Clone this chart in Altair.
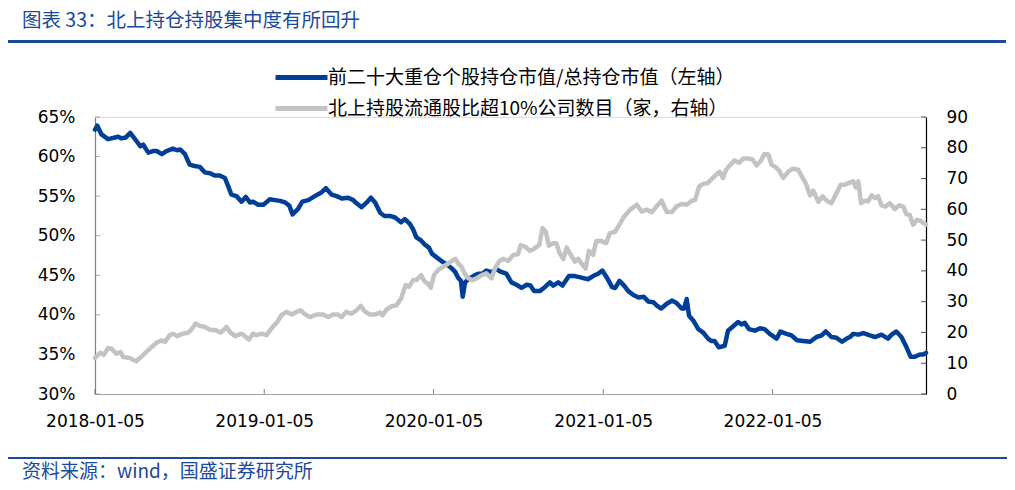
import altair as alt
import pandas as pd

S1 = "前二十大重仓个股持仓市值/总持仓市值（左轴）"
S2 = "北上持股流通股比超10%公司数目（家，右轴）"
TITLE = "图表 33：北上持仓持股集中度有所回升"
SOURCE = "资料来源：wind，国盛证券研究所"

blue_dates = [
    "2018-01-05", "2018-01-10", "2018-01-19", "2018-02-02", "2018-02-24", "2018-03-03",
    "2018-03-12", "2018-03-22", "2018-04-04", "2018-04-13", "2018-04-19", "2018-04-30",
    "2018-05-10", "2018-05-18", "2018-05-29", "2018-06-08", "2018-06-22", "2018-07-01",
    "2018-07-08", "2018-07-18", "2018-07-28", "2018-08-08", "2018-08-19", "2018-08-30",
    "2018-09-10", "2018-09-20", "2018-10-01", "2018-10-12", "2018-10-19", "2018-10-26",
    "2018-11-06", "2018-11-17", "2018-11-26", "2018-12-05", "2018-12-12", "2018-12-23",
    "2019-01-03", "2019-01-17", "2019-01-28", "2019-02-08", "2019-02-19", "2019-02-28",
    "2019-03-07", "2019-03-19", "2019-03-28", "2019-04-10", "2019-04-24", "2019-05-09",
    "2019-05-18", "2019-05-30", "2019-06-10", "2019-06-21", "2019-07-05", "2019-07-16",
    "2019-07-23", "2019-08-03", "2019-08-14", "2019-08-23", "2019-09-01", "2019-09-12",
    "2019-09-21", "2019-10-03", "2019-10-14", "2019-10-27", "2019-11-04", "2019-11-15",
    "2019-11-22", "2019-11-29", "2019-12-09", "2019-12-17", "2019-12-26", "2020-01-02",
    "2020-01-11", "2020-01-22", "2020-02-02", "2020-02-13", "2020-02-21", "2020-02-27",
    "2020-03-04", "2020-03-08", "2020-03-13", "2020-03-20", "2020-03-31", "2020-04-10",
    "2020-04-19", "2020-04-28", "2020-05-09", "2020-05-20", "2020-05-27", "2020-06-10",
    "2020-06-21", "2020-07-02", "2020-07-13", "2020-07-24", "2020-08-01", "2020-08-09",
    "2020-08-21", "2020-09-01", "2020-09-12", "2020-09-19", "2020-09-30", "2020-10-09",
    "2020-10-23", "2020-11-05", "2020-11-19", "2020-12-03", "2020-12-14", "2020-12-25",
    "2021-01-03", "2021-01-13", "2021-01-24", "2021-01-31", "2021-02-09", "2021-02-19",
    "2021-02-28", "2021-03-11", "2021-03-22", "2021-04-02", "2021-04-12", "2021-04-23",
    "2021-04-30", "2021-05-10", "2021-05-22", "2021-06-02", "2021-06-12", "2021-06-23",
    "2021-06-28", "2021-07-04", "2021-07-09", "2021-07-18", "2021-07-29", "2021-08-08",
    "2021-08-19", "2021-08-26", "2021-09-02", "2021-09-11", "2021-09-24", "2021-10-01",
    "2021-10-11", "2021-10-23", "2021-10-30", "2021-11-06", "2021-11-15", "2021-11-28",
    "2021-12-09", "2021-12-19", "2021-12-30", "2022-01-14", "2022-01-22", "2022-02-04",
    "2022-02-15", "2022-02-27", "2022-03-12", "2022-03-27", "2022-04-10", "2022-04-21",
    "2022-04-30", "2022-05-12", "2022-05-23", "2022-06-04", "2022-06-14", "2022-06-21",
    "2022-06-28", "2022-07-09", "2022-07-20", "2022-08-03", "2022-08-14", "2022-08-28",
    "2022-09-11", "2022-09-19", "2022-09-29", "2022-10-10", "2022-10-21", "2022-10-30",
    "2022-11-08", "2022-11-19", "2022-11-26", "2022-12-02",
]
blue_pct = [
    63.4, 63.9, 62.8, 62.2, 62.5, 62.3,
    62.4, 63.0, 62.0, 61.3, 61.5, 60.5,
    60.7, 60.7, 60.3, 60.7, 61.0, 60.8,
    60.9, 60.3, 59.0, 58.8, 58.7, 58.0,
    57.9, 57.6, 57.6, 57.3, 56.3, 55.2,
    55.0, 54.3, 54.9, 54.2, 54.3, 53.9,
    53.9, 54.6, 54.5, 54.4, 54.2, 53.8,
    52.7, 53.4, 54.3, 54.5, 55.0, 55.5,
    56.0, 55.2, 55.0, 54.7, 54.8, 54.5,
    54.1, 53.6, 54.2, 54.8, 54.2, 52.9,
    52.5, 52.5, 52.3, 51.7, 52.1, 51.5,
    50.8, 49.8, 49.4, 48.9, 48.5, 47.7,
    47.3, 46.8, 46.4, 45.9, 45.4, 44.7,
    44.3, 42.3, 44.1, 44.5, 44.9, 45.2,
    45.2, 45.6, 45.4, 45.8, 45.5, 45.2,
    44.1, 43.8, 43.4, 43.8, 43.7, 43.0,
    43.0, 43.5, 44.1, 43.7, 44.1, 43.7,
    44.9, 44.9, 44.7, 44.5, 44.9, 45.2,
    45.6, 44.7, 43.5, 43.4, 44.3, 43.7,
    43.0, 42.5, 42.2, 42.3, 41.7, 41.6,
    41.2, 40.8, 41.4, 41.8, 41.5, 40.8,
    40.8, 42.0, 39.9, 39.3, 38.2, 37.8,
    37.0, 36.7, 36.7, 35.9, 36.1, 38.0,
    38.5, 39.1, 38.8, 39.0, 38.2, 38.0,
    38.3, 38.2, 37.6, 37.0, 37.9, 37.6,
    37.4, 36.8, 36.7, 36.6, 37.2, 37.4,
    37.9, 37.2, 37.1, 36.6, 37.0, 37.2,
    37.6, 37.5, 37.7, 37.4, 37.2, 37.5,
    37.0, 37.5, 37.9, 37.2, 35.9, 34.7,
    34.7, 35.0, 35.0, 35.2,
]

gray_dates = [
    "2018-01-05", "2018-01-16", "2018-01-24", "2018-02-02", "2018-02-10", "2018-02-20",
    "2018-03-01", "2018-03-07", "2018-03-21", "2018-04-04", "2018-04-19", "2018-05-03",
    "2018-05-18", "2018-05-29", "2018-06-05", "2018-06-15", "2018-06-22", "2018-07-01",
    "2018-07-13", "2018-07-25", "2018-08-01", "2018-08-10", "2018-08-19", "2018-08-30",
    "2018-09-10", "2018-09-23", "2018-10-03", "2018-10-16", "2018-10-23", "2018-11-03",
    "2018-11-17", "2018-11-24", "2018-12-03", "2018-12-12", "2018-12-19", "2018-12-30",
    "2019-01-10", "2019-01-21", "2019-02-01", "2019-02-11", "2019-02-22", "2019-03-05",
    "2019-03-16", "2019-03-24", "2019-04-01", "2019-04-13", "2019-04-28", "2019-05-12",
    "2019-05-23", "2019-06-02", "2019-06-13", "2019-06-21", "2019-07-01", "2019-07-12",
    "2019-07-23", "2019-08-01", "2019-08-10", "2019-08-21", "2019-09-01", "2019-09-12",
    "2019-09-17", "2019-09-26", "2019-10-07", "2019-10-17", "2019-10-27", "2019-11-06",
    "2019-11-13", "2019-11-22", "2019-11-29", "2019-12-09", "2019-12-17", "2019-12-24",
    "2019-12-30", "2020-01-06", "2020-01-15", "2020-01-26", "2020-02-06", "2020-02-13",
    "2020-02-21", "2020-02-27", "2020-03-05", "2020-03-13", "2020-03-20", "2020-03-29",
    "2020-04-07", "2020-04-18", "2020-04-28", "2020-05-09", "2020-05-16", "2020-05-25",
    "2020-06-03", "2020-06-14", "2020-06-25", "2020-07-05", "2020-07-11", "2020-07-20",
    "2020-07-31", "2020-08-10", "2020-08-20", "2020-08-27", "2020-09-03", "2020-09-10",
    "2020-09-19", "2020-09-26", "2020-10-03", "2020-10-11", "2020-10-18", "2020-10-27",
    "2020-11-05", "2020-11-12", "2020-11-19", "2020-11-28", "2020-12-05", "2020-12-14",
    "2020-12-21", "2021-01-01", "2021-01-11", "2021-01-19", "2021-01-31", "2021-02-09",
    "2021-02-19", "2021-03-04", "2021-03-18", "2021-03-29", "2021-04-09", "2021-04-20",
    "2021-04-30", "2021-05-11", "2021-05-22", "2021-06-02", "2021-06-12", "2021-06-23",
    "2021-07-04", "2021-07-15", "2021-07-22", "2021-07-31", "2021-08-08", "2021-08-19",
    "2021-08-26", "2021-09-06", "2021-09-13", "2021-09-20", "2021-09-27", "2021-10-06",
    "2021-10-15", "2021-10-25", "2021-11-03", "2021-11-13", "2021-11-23", "2021-12-02",
    "2021-12-10", "2021-12-19", "2021-12-27", "2022-01-03", "2022-01-12", "2022-01-19",
    "2022-01-28", "2022-02-08", "2022-02-17", "2022-03-01", "2022-03-11", "2022-03-19",
    "2022-03-27", "2022-04-03", "2022-04-14", "2022-04-23", "2022-05-02", "2022-05-12",
    "2022-05-22", "2022-06-01", "2022-06-10", "2022-06-19", "2022-06-28", "2022-07-04",
    "2022-07-09", "2022-07-15", "2022-07-23", "2022-07-30", "2022-08-07", "2022-08-14",
    "2022-08-21", "2022-08-28", "2022-09-06", "2022-09-15", "2022-09-26", "2022-10-05",
    "2022-10-14", "2022-10-21", "2022-10-28", "2022-11-04", "2022-11-13", "2022-11-20",
    "2022-11-27", "2022-12-02",
]
gray_count = [
    11.7, 13.4, 12.7, 14.9, 14.7, 13.1,
    13.6, 12.0, 11.7, 10.6, 12.7, 14.7,
    16.7, 17.4, 16.9, 19.1, 19.6, 18.8,
    19.6, 19.9, 21.0, 22.9, 22.1, 21.8,
    20.9, 20.7, 19.9, 21.8, 20.1, 18.8,
    19.6, 18.8, 17.7, 19.6, 19.1, 19.6,
    19.1, 21.4, 23.2, 25.6, 26.7, 25.8,
    26.7, 27.2, 26.1, 25.0, 25.8, 25.8,
    25.0, 25.8, 25.8, 25.0, 26.7, 26.1,
    27.2, 28.6, 26.8, 25.8, 25.8, 26.5,
    25.6, 27.5, 28.5, 28.8, 31.0, 35.4,
    34.8, 37.0, 37.0, 38.6, 36.5, 35.9,
    34.5, 38.6, 40.3, 41.4, 42.4, 43.2,
    43.9, 42.4, 41.4, 38.9, 37.6, 37.0,
    37.6, 38.6, 39.2, 37.6, 40.6, 43.0,
    43.9, 43.2, 45.2, 45.4, 48.4, 47.9,
    46.5, 47.3, 48.4, 53.9, 52.8, 48.2,
    49.0, 49.0, 45.7, 43.9, 47.6, 45.2,
    43.0, 43.9, 42.4, 40.8, 46.5, 45.2,
    49.7, 49.7, 49.0, 52.2, 52.8, 55.0,
    57.7, 59.9, 61.5, 59.3, 59.9, 59.1,
    61.0, 62.8, 59.1, 59.1, 61.0, 61.7,
    61.5, 62.8, 63.1, 67.5, 68.2, 68.6,
    69.7, 71.3, 72.2, 70.2, 72.9, 74.5,
    75.9, 75.1, 76.5, 76.5, 76.2, 74.3,
    75.6, 78.0, 77.8, 74.5, 73.7, 72.6,
    70.2, 72.2, 73.2, 72.9, 70.2, 68.0,
    64.5, 66.1, 62.4, 64.2, 62.8, 62.0,
    65.0, 68.0, 68.0, 68.6, 69.1, 67.1,
    69.1, 62.0, 62.8, 62.6, 64.5, 63.7,
    64.2, 61.3, 60.9, 62.0, 60.1, 61.3,
    60.9, 58.4, 58.2, 55.0, 56.6, 56.3,
    55.5, 55.0,
]

year_ticks = ["2018-01-05", "2019-01-05", "2020-01-05", "2021-01-05", "2022-01-05"]
left_ticks = [0.30, 0.35, 0.40, 0.45, 0.50, 0.55, 0.60, 0.65]
right_ticks = [0, 10, 20, 30, 40, 50, 60, 70, 80, 90]

BLUE = "#003f98"
GRAY = "#c3c3c3"
NAVY = "#1b4a9a"
CJK = "Noto Sans CJK SC"
LAT = "DejaVu Sans"
W, H = 831, 277

blue_df = pd.DataFrame({"date": blue_dates, "value": [v / 100 for v in blue_pct], "series": S1})
gray_df = pd.DataFrame({"date": gray_dates, "value": gray_count, "series": S2})
xt_df = pd.DataFrame({"date": year_ticks})
lt_df = pd.DataFrame({"value": left_ticks})
rt_df = pd.DataFrame({"value": right_ticks})

xscale = alt.Scale(domain=[alt.DateTime(year=2018, month=1, date=5),
                           alt.DateTime(year=2022, month=12, date=2)])
x_axis = alt.Axis(values=[alt.DateTime(year=y, month=1, date=5) for y in range(2018, 2023)],
                  format="%Y-%m-%d", labelFont=LAT, labelFontSize=17, labelColor="#000",
                  domainColor="#a6a6a6", domainWidth=1.2, ticks=False, tickSize=0,
                  labelPadding=19, grid=False, labelFlush=False)
X = alt.X("date:T", scale=xscale, axis=x_axis, title=None)

lscale = alt.Scale(domain=[0.30, 0.65], nice=False, zero=False)
l_axis = alt.Axis(values=left_ticks, format=".0%", labelFont=LAT, labelFontSize=17,
                  labelColor="#000", domainColor="#808080", domainWidth=1.2,
                  ticks=False, tickSize=0, labelPadding=20, grid=False, orient="left")
YL = alt.Y("value:Q", scale=lscale, axis=l_axis, title=None)

rscale = alt.Scale(domain=[0, 90], nice=False, zero=False)
r_axis = alt.Axis(values=right_ticks, format="d", labelFont=LAT, labelFontSize=17,
                  labelColor="#000", domainColor="#000", domainWidth=1.2,
                  ticks=False, tickSize=0, labelPadding=20, grid=False, orient="right")
YR = alt.Y("value:Q", scale=rscale, axis=r_axis, title=None)

color = alt.Color(
    "series:N",
    scale=alt.Scale(domain=[S1, S2], range=[BLUE, GRAY]),
    legend=alt.Legend(
        orient="none", legendX=197, legendY=-49, direction="vertical", title=None,
        symbolType="M-5,0H5", symbolSize=108, symbolStrokeWidth=5,
        labelFont=CJK, labelFontSize=19, labelColor="#000", labelLimit=800,
        labelOffset=17, rowPadding=10, padding=0,
    ),
)

blue_line = alt.Chart(blue_df).mark_line(strokeWidth=4.5, strokeJoin="round", strokeCap="round").encode(
    x=X, y=YL, color=color)
left_tk = alt.Chart(lt_df).mark_tick(size=5, thickness=1, color="#808080", orient="horizontal").encode(
    x=alt.value(2.5), y=YL)
gray_line = alt.Chart(gray_df).mark_line(strokeWidth=4.5, strokeJoin="round", strokeCap="round").encode(
    x=X, y=YR, color=color)
right_tk = alt.Chart(rt_df).mark_tick(size=5, thickness=1, color="#000", orient="horizontal").encode(
    x=alt.value(W - 2.5), y=YR)
bottom_tk = alt.Chart(xt_df).mark_tick(size=5, thickness=1, color="#555", orient="vertical").encode(
    x=X, y=alt.value(H - 2.5))

one = pd.DataFrame({"t": [TITLE]})
src = pd.DataFrame({"t": [SOURCE]})
title_txt = alt.Chart(one).mark_text(font=CJK, fontSize=19.5, color=NAVY, align="left",
                                     baseline="middle").encode(
    x=alt.value(-73), y=alt.value(-96), text="t:N")
title_rule = alt.Chart(one).mark_rule(color=NAVY, strokeWidth=3).encode(
    x=alt.value(-88), x2=alt.value(911), y=alt.value(-75.5))
src_rule = alt.Chart(src).mark_rule(color=NAVY, strokeWidth=2).encode(
    x=alt.value(-88), x2=alt.value(915), y=alt.value(341))
src_txt = alt.Chart(src).mark_text(font=CJK, fontSize=19, color=NAVY, align="left",
                                   baseline="middle").encode(
    x=alt.value(-73), y=alt.value(355), text="t:N")

left_group = alt.layer(blue_line, left_tk)
right_group = alt.layer(gray_line, right_tk)

chart = alt.layer(
    left_group, right_group, bottom_tk, title_txt, title_rule, src_rule, src_txt
).resolve_scale(y="independent").properties(
    width=W, height=H, autosize="none",
    padding={"left": 87, "top": 109, "right": 81, "bottom": 88},
).configure_view(stroke=None).configure(background="white")

chart.save("out.html", embed_options={"renderer": "svg", "actions": False})
